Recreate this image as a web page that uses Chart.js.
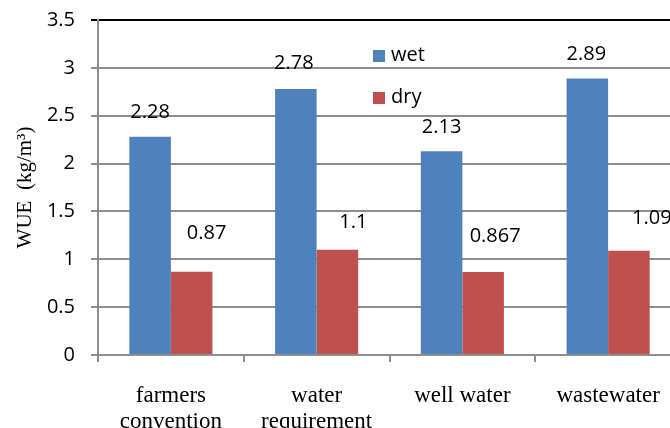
<!DOCTYPE html>
<html>
<head>
<meta charset="utf-8">
<title>WUE wet / dry</title>
<script src="https://cdn.jsdelivr.net/npm/chart.js@4/dist/chart.umd.min.js"></script>
<style>
  html, body { margin: 0; padding: 0; background: #fff; overflow: hidden; }
  #wrap { width: 690px; height: 428px; }
</style>
</head>
<body>
<div id="wrap"><canvas id="wueChart" width="690" height="428"></canvas></div>
<script>
// ---- chart data ----
const categories = [
  ['farmers', 'convention'],
  ['water', 'requirement'],
  'well water',
  'wastewater'
];
const wetValues = [2.28, 2.78, 2.13, 2.89];
const dryValues = [0.87, 1.1, 0.867, 1.09];
const yTicks = { min: 0, max: 3.5, step: 0.5 };
const yTitle = 'WUE  (kg/m³)';

const blue = '#4F81BD';
const red = '#C0504D';
const gridGray = '#8e8e8e';
const sansFont = '"Open Sans", "Liberation Sans", sans-serif';
const serifFont = '"Liberation Serif", "DejaVu Serif", serif';

// value labels above the bars (hand placed in the original, so small shifts per point)
const valueLabels = {
  id: 'valueLabels',
  afterDatasetsDraw(chart, args, opts) {
    const ctx = chart.ctx;
    ctx.save();
    ctx.font = '20px ' + sansFont;
    ctx.fillStyle = '#000';
    ctx.textAlign = 'center';
    ctx.textBaseline = 'middle';
    chart.data.datasets.forEach((ds, di) => {
      const meta = chart.getDatasetMeta(di);
      meta.data.forEach((bar, i) => {
        const shift = opts.shifts[di][i];
        ctx.fillText(String(ds.data[i]), bar.x + shift[0], bar.y + shift[1]);
      });
    });
    ctx.restore();
  }
};

// legend drawn inside the plot area
const innerLegend = {
  id: 'innerLegend',
  afterDraw(chart, args, opts) {
    const ctx = chart.ctx;
    ctx.save();
    ctx.font = '20px ' + sansFont;
    ctx.textAlign = 'left';
    ctx.textBaseline = 'middle';
    chart.data.datasets.forEach((ds, di) => {
      const y = opts.y + di * opts.gap;
      ctx.fillStyle = ds.backgroundColor;
      ctx.fillRect(opts.x, y - opts.box / 2, opts.box, opts.box);
      ctx.fillStyle = '#000';
      ctx.fillText(ds.label, opts.x + opts.box + 6, y - 1);
    });
    ctx.restore();
  }
};

const chartConfig = {
  type: 'bar',
  data: {
    labels: categories,
    datasets: [
      { label: 'wet', data: wetValues, backgroundColor: blue },
      { label: 'dry', data: dryValues, backgroundColor: red }
    ]
  },
  options: {
    responsive: false,
    animation: false,
    devicePixelRatio: 1,
    layout: { padding: { top: 20, right: 9, bottom: 0, left: 0 } },
    datasets: {
      bar: { categoryPercentage: 0.57, barPercentage: 1.0 }
    },
    scales: {
      x: {
        grid: {
          display: true,
          drawOnChartArea: false,
          drawTicks: true,
          tickLength: 7,
          color: gridGray,
          lineWidth: 2
        },
        border: { display: true, color: gridGray, width: 2 },
        ticks: {
          color: '#000',
          padding: 21,
          maxRotation: 0,
          autoSkip: false,
          font: { family: serifFont, size: 23, lineHeight: 1.13 }
        },
        afterFit(scale) { scale.height = 73; }
      },
      y: {
        min: yTicks.min,
        max: yTicks.max,
        ticks: {
          stepSize: yTicks.step,
          color: '#000',
          padding: 16,
          font: { family: sansFont, size: 20 },
          callback: (v) => String(v)
        },
        grid: {
          tickLength: 7,
          lineWidth: 2,
          color: (c) => (c.tick && c.tick.value === yTicks.max ? '#000' : gridGray)
        },
        border: { display: true, color: gridGray, width: 2 },
        title: {
          display: true,
          text: yTitle,
          color: '#000',
          padding: { top: 13, bottom: 0 },
          font: { family: serifFont, size: 21 }
        },
        afterFit(scale) {
          scale.width = 98;
          scale.paddingTop = 0;
          scale.paddingBottom = 0;
        }
      }
    },
    plugins: {
      legend: { display: false },
      tooltip: { enabled: false },
      valueLabels: {
        shifts: [
          [[0, -24], [-2, -26], [0, -24], [-1, -24]],
          [[15, -38], [16, -27], [12, -36], [23, -32]]
        ]
      },
      innerLegend: { x: 373, y: 56, gap: 42, box: 12 }
    }
  },
  plugins: [valueLabels, innerLegend]
};

const wueChart = new Chart(document.getElementById('wueChart').getContext('2d'), chartConfig);
</script>
</body>
</html>
